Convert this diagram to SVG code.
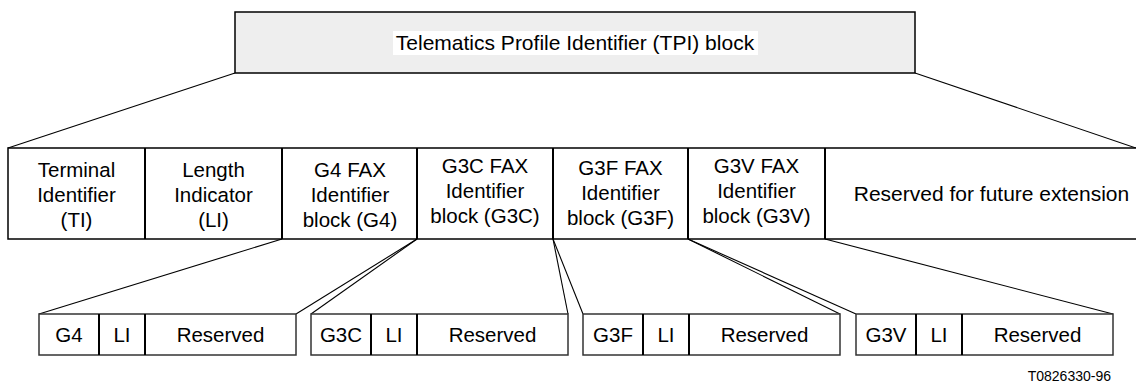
<svg xmlns="http://www.w3.org/2000/svg" width="1136" height="385" viewBox="0 0 1136 385">
<style>
text{font-family:"Liberation Sans",Arial,sans-serif;fill:#000;text-anchor:middle}
.t{font-size:20.5px}
.s{font-size:20.5px}
.f{font-size:14px;text-anchor:end}
.box{fill:#fff;stroke:#000;stroke-width:1.5}
.div{stroke:#000;stroke-width:2}
.sbox{fill:#fff;stroke:#333;stroke-width:1.5}
.con line{stroke:#000;stroke-width:1.1}
</style>
<rect width="1136" height="385" fill="#fff"/>
<g class="con" id="connectors">
<line x1="235" y1="73" x2="8" y2="148"/>
<line x1="915" y1="73" x2="1136" y2="148"/>
<line x1="282" y1="239" x2="39" y2="314"/>
<line x1="417" y1="239" x2="296" y2="314"/>
<line x1="417" y1="239" x2="311" y2="314"/>
<line x1="553" y1="239" x2="568" y2="314"/>
<line x1="553" y1="239" x2="583" y2="314"/>
<line x1="688" y1="239" x2="840" y2="314"/>
<line x1="688" y1="239" x2="856" y2="314"/>
<line x1="825" y1="239" x2="1113" y2="314"/>
</g>
<g id="tpi">
<rect x="235" y="12" width="680" height="61" fill="#eeeeee" stroke="#000" stroke-width="1.5"/>
<rect x="393" y="31" width="365" height="24" fill="#fff"/>
<text x="575" y="50" style="font-size:21px">Telematics Profile Identifier (TPI) block</text>
</g>
<g id="row2">
<rect class="box" x="8" y="148" width="1140" height="91"/>
<line class="div" x1="145" y1="148" x2="145" y2="239"/>
<line class="div" x1="282" y1="148" x2="282" y2="239"/>
<line class="div" x1="417" y1="148" x2="417" y2="239"/>
<line class="div" x1="553" y1="148" x2="553" y2="239"/>
<line class="div" x1="688" y1="148" x2="688" y2="239"/>
<line class="div" x1="825" y1="148" x2="825" y2="239"/>
</g>
<g id="ti"><text class="t" x="76.5" y="177">Terminal</text><text class="t" x="76.5" y="202">Identifier</text><text class="t" x="76.5" y="227">(TI)</text></g>
<g id="li"><text class="t" x="213.5" y="177">Length</text><text class="t" x="213.5" y="202">Indicator</text><text class="t" x="213.5" y="227">(LI)</text></g>
<g id="g4"><text class="t" x="350" y="177">G4 FAX</text><text class="t" x="350" y="202">Identifier</text><text class="t" x="350" y="227">block (G4)</text></g>
<g id="g3c"><text class="t" x="485" y="173">G3C FAX</text><text class="t" x="485" y="198">Identifier</text><text class="t" x="485" y="223">block (G3C)</text></g>
<g id="g3f"><text class="t" x="620.5" y="175">G3F FAX</text><text class="t" x="620.5" y="200">Identifier</text><text class="t" x="620.5" y="225">block (G3F)</text></g>
<g id="g3v"><text class="t" x="756.5" y="173">G3V FAX</text><text class="t" x="756.5" y="198">Identifier</text><text class="t" x="756.5" y="223">block (G3V)</text></g>
<g id="reserved-ext"><text x="991.5" y="201" style="font-size:21px">Reserved for future extension</text></g>
<g id="sub-g4">
<rect class="sbox" x="39" y="314" width="257" height="41"/>
<line class="div" x1="99" y1="314" x2="99" y2="355"/><line class="div" x1="145" y1="314" x2="145" y2="355"/>
<text class="s" x="69" y="342">G4</text><text class="s" x="122" y="342">LI</text><text class="s" x="220.5" y="342">Reserved</text>
</g>
<g id="sub-g3c">
<rect class="sbox" x="311" y="314" width="257" height="41"/>
<line class="div" x1="371" y1="314" x2="371" y2="355"/><line class="div" x1="417" y1="314" x2="417" y2="355"/>
<text class="s" x="341" y="342">G3C</text><text class="s" x="394" y="342">LI</text><text class="s" x="492.5" y="342">Reserved</text>
</g>
<g id="sub-g3f">
<rect class="sbox" x="583" y="314" width="257" height="41"/>
<line class="div" x1="643" y1="314" x2="643" y2="355"/><line class="div" x1="689" y1="314" x2="689" y2="355"/>
<text class="s" x="613" y="342">G3F</text><text class="s" x="666" y="342">LI</text><text class="s" x="764.5" y="342">Reserved</text>
</g>
<g id="sub-g3v">
<rect class="sbox" x="856" y="314" width="257" height="41"/>
<line class="div" x1="916" y1="314" x2="916" y2="355"/><line class="div" x1="962" y1="314" x2="962" y2="355"/>
<text class="s" x="886" y="342">G3V</text><text class="s" x="939" y="342">LI</text><text class="s" x="1037.5" y="342">Reserved</text>
</g>
<text class="f" x="1111" y="381">T0826330-96</text>
</svg>
